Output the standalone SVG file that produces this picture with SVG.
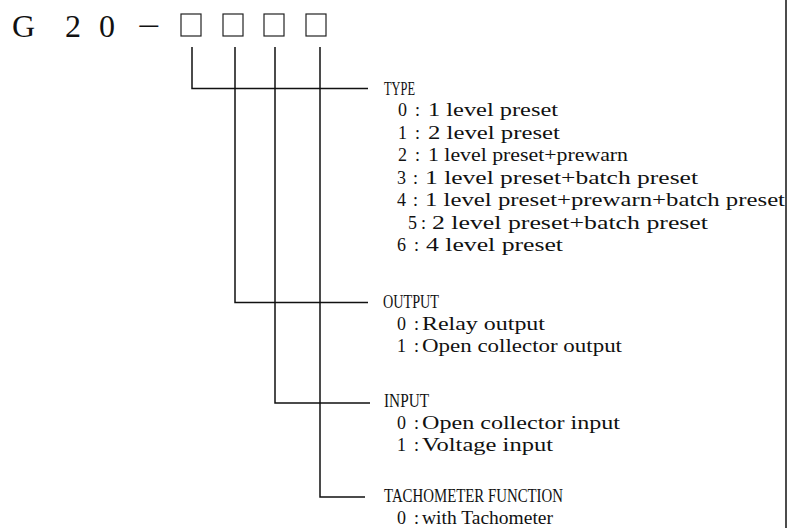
<svg xmlns="http://www.w3.org/2000/svg" width="787" height="528" viewBox="0 0 787 528">
<style>
.t{font-family:"Liberation Serif","Times New Roman",serif;fill:#111;}
.h{font-size:32px;}
.s{font-size:18px;}
.ln{fill:none;stroke:#111;stroke-width:1.5;}
.bx{fill:none;stroke:#222;stroke-width:1.2;}
</style>
<rect width="787" height="528" fill="#fff"/>
<g id="title">
<text class="t h" y="37"><tspan x="12">G </tspan><tspan x="65">2 </tspan><tspan x="99">0 </tspan><tspan x="137" textLength="23" lengthAdjust="spacingAndGlyphs">−</tspan></text>
<rect class="bx" x="181" y="14" width="20" height="22"/>
<rect class="bx" x="223" y="14" width="20" height="22"/>
<rect class="bx" x="264" y="14" width="20" height="22"/>
<rect class="bx" x="306" y="14" width="20" height="22"/>
</g>
<g id="connectors">
<path class="ln" d="M192 47V88.5H368"/>
<path class="ln" d="M235 47V302.5H368"/>
<path class="ln" d="M275 47V403H370"/>
<path class="ln" d="M320 47V497H365"/>
<path class="ln" d="M786 0V528"/>
</g>
<g id="type">
<text class="t s" x="384" y="95" textLength="31" lengthAdjust="spacingAndGlyphs">TYPE</text>
<text class="t s" y="116"><tspan x="398">0 </tspan><tspan x="415">: </tspan><tspan x="428" textLength="130" lengthAdjust="spacingAndGlyphs">1 level preset</tspan></text>
<text class="t s" y="138.5"><tspan x="398">1 </tspan><tspan x="415">: </tspan><tspan x="428" textLength="132" lengthAdjust="spacingAndGlyphs">2 level preset</tspan></text>
<text class="t s" y="161"><tspan x="398">2 </tspan><tspan x="415">: </tspan><tspan x="428" textLength="200" lengthAdjust="spacingAndGlyphs">1 level preset+prewarn</tspan></text>
<text class="t s" y="183.5"><tspan x="397">3 </tspan><tspan x="413">: </tspan><tspan x="425" textLength="273" lengthAdjust="spacingAndGlyphs">1 level preset+batch preset</tspan></text>
<text class="t s" y="206"><tspan x="397">4 </tspan><tspan x="413">: </tspan><tspan x="425" textLength="360" lengthAdjust="spacingAndGlyphs">1 level preset+prewarn+batch preset</tspan></text>
<text class="t s" y="228.5"><tspan x="408">5 </tspan><tspan x="421">: </tspan><tspan x="432" textLength="276" lengthAdjust="spacingAndGlyphs">2 level preset+batch preset</tspan></text>
<text class="t s" y="251"><tspan x="397">6 </tspan><tspan x="414">: </tspan><tspan x="426" textLength="137" lengthAdjust="spacingAndGlyphs">4 level preset</tspan></text>
</g>
<g id="output">
<text class="t s" x="383" y="308" textLength="56" lengthAdjust="spacingAndGlyphs">OUTPUT</text>
<text class="t s" y="330"><tspan x="397">0 </tspan><tspan x="414">: </tspan><tspan x="422" textLength="123" lengthAdjust="spacingAndGlyphs">Relay output</tspan></text>
<text class="t s" y="352"><tspan x="397">1 </tspan><tspan x="414">: </tspan><tspan x="422" textLength="200" lengthAdjust="spacingAndGlyphs">Open collector output</tspan></text>
</g>
<g id="input">
<text class="t s" x="384" y="407" textLength="45" lengthAdjust="spacingAndGlyphs">INPUT</text>
<text class="t s" y="429"><tspan x="397">0 </tspan><tspan x="414">: </tspan><tspan x="422" textLength="198" lengthAdjust="spacingAndGlyphs">Open collector input</tspan></text>
<text class="t s" y="451"><tspan x="397">1 </tspan><tspan x="414">: </tspan><tspan x="422" textLength="131" lengthAdjust="spacingAndGlyphs">Voltage input</tspan></text>
</g>
<g id="tachometer">
<text class="t s" x="384" y="502" textLength="179" lengthAdjust="spacingAndGlyphs">TACHOMETER FUNCTION</text>
<text class="t s" y="524"><tspan x="397">0 </tspan><tspan x="414">: </tspan><tspan x="422" textLength="131" lengthAdjust="spacingAndGlyphs">with Tachometer</tspan></text>
</g>
</svg>
